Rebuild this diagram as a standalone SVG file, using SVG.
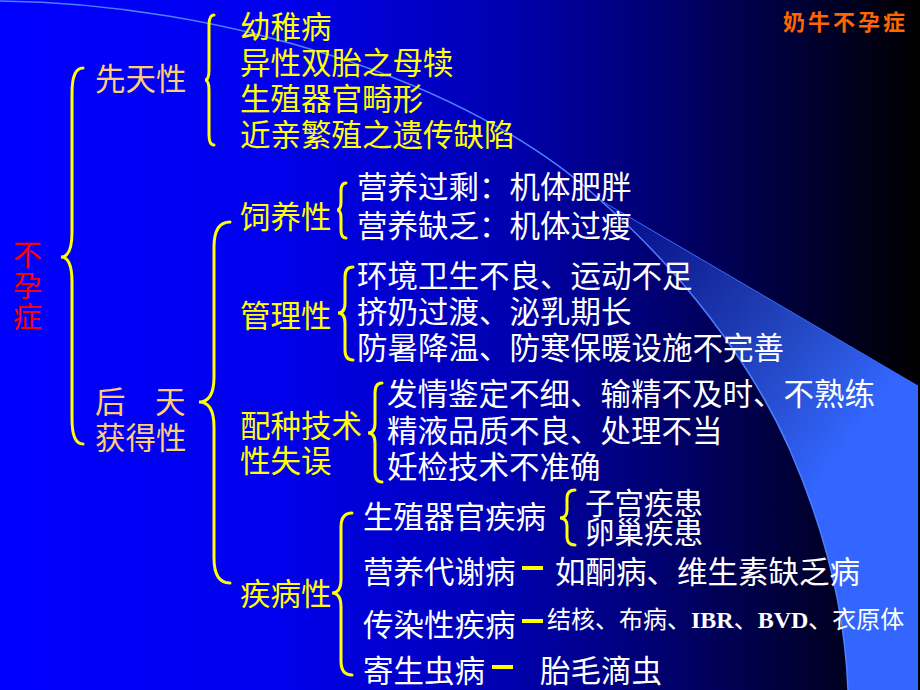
<svg xmlns="http://www.w3.org/2000/svg" width="920" height="690" viewBox="0 0 920 690">
<defs>
<linearGradient id="bg" x1="0" y1="0" x2="920" y2="0" gradientUnits="userSpaceOnUse">
<stop offset="0" stop-color="#0000FF"/>
<stop offset="0.3" stop-color="#0000EE"/>
<stop offset="0.55" stop-color="#0000B0"/>
<stop offset="0.8" stop-color="#000050"/>
<stop offset="1" stop-color="#000000"/>
</linearGradient>
<linearGradient id="wedge" x1="610" y1="205" x2="880" y2="400" gradientUnits="userSpaceOnUse">
<stop offset="0" stop-color="#3366FF" stop-opacity="0.1"/>
<stop offset="1" stop-color="#3366FF" stop-opacity="1"/>
</linearGradient>
<style>
text{font-family:"Noto Sans CJK SC","Liberation Sans",sans-serif;font-size:30.5px}
.y{fill:#FFFF00}
.w{fill:#FFFFFF}
.t{fill:#FFCC77}
.r{fill:#FF0000;font-size:29px}
.brace{fill:none;stroke:#FFFF00;stroke-width:3;stroke-linecap:round}
.dash{stroke:#FFFF00;stroke-width:4}
.sub{font-size:29.5px}
.sm{font-size:24px;font-family:"Liberation Serif","Noto Sans CJK SC",serif;font-weight:bold}
.smc{font-weight:normal;font-family:"Noto Sans CJK SC",sans-serif}
</style>
</defs>
<rect x="0" y="0" width="920" height="690" fill="url(#bg)"/>
<g id="decoration">
<path d="M600,200 L918,386 L918,690 L848,690 C845,610 825,530 790,450 C750,360 680,270 600,200 Z" fill="url(#wedge)"/>
<path d="M0,1 C220,3 470,80 600,200 C680,270 750,360 790,450 C825,530 845,610 848,690" fill="none" stroke="#4D7FFF" stroke-width="1.5"/>
<path d="M600,200 L918,386" fill="none" stroke="#3D6BFF" stroke-width="1"/>
</g>
<g id="title"><text x="783" y="30" style="fill:#FF6600;font-size:22px;font-weight:bold;letter-spacing:3px">奶牛不孕症</text></g>
<g id="root"><text class="r" x="13" y="266">不</text><text class="r" x="13" y="297">孕</text><text class="r" x="13" y="328">症</text></g>
<g id="congenital"><text class="t" x="95" y="90">先天性</text></g>
<g id="congenital-items">
<text class="y" x="240" y="38">幼稚病</text>
<text class="y" x="240" y="74">异性双胎之母犊</text>
<text class="y" x="240" y="110">生殖器官畸形</text>
<text class="y" x="240" y="146">近亲繁殖之遗传缺陷</text>
</g>
<g id="acquired"><text class="t" x="95" y="413">后</text><text class="t" x="155" y="413">天</text><text class="t" x="95" y="449">获得性</text></g>
<g id="feeding"><text class="y" x="240" y="228">饲养性</text></g>
<g id="feeding-items">
<text class="w" x="357" y="198">营养过剩：机体肥胖</text>
<text class="w" x="357" y="237">营养缺乏：机体过瘦</text>
</g>
<g id="management"><text class="y" x="240" y="327">管理性</text></g>
<g id="management-items">
<text class="w" x="357" y="287">环境卫生不良、运动不足</text>
<text class="w" x="357" y="323">挤奶过渡、泌乳期长</text>
<text class="w" x="357" y="359">防暑降温、防寒保暖设施不完善</text>
</g>
<g id="breeding"><text class="y" x="240" y="437">配种技术</text><text class="y" x="240" y="472">性失误</text></g>
<g id="breeding-items">
<text class="w" x="387" y="405">发情鉴定不细、输精不及时、不熟练</text>
<text class="w" x="387" y="442">精液品质不良、处理不当</text>
<text class="w" x="387" y="478">妊检技术不准确</text>
</g>
<g id="disease"><text class="y" x="240" y="605">疾病性</text></g>
<g id="reproductive"><text class="w" x="363" y="528">生殖器官疾病</text></g>
<g id="reproductive-items">
<text class="w sub" x="585" y="514">子宫疾患</text>
<text class="w sub" x="585" y="543">卵巢疾患</text>
</g>
<g id="metabolic"><text class="w" x="363" y="583">营养代谢病</text><text class="w" x="555" y="583">如酮病、维生素缺乏病</text></g>
<g id="infectious"><text class="w" x="363" y="636">传染性疾病</text><text class="w sm" x="547" y="628"><tspan class="smc">结核、布病、</tspan>IBR<tspan class="smc">、</tspan>BVD<tspan class="smc">、衣原体</tspan></text></g>
<g id="parasitic"><text class="w" x="363" y="682">寄生虫病</text><text class="w" x="540" y="682">胎毛滴虫</text></g>
<g id="connectors">
<path class="brace" d="M83,68 Q72,68 72,93 L72,232 Q72,257 61,257 Q72,257 72,282 L72,419 Q72,444 83,444"/>
<path class="brace" d="M214,15 Q209,15 209,25 L209,70 Q209,80 205,80 Q209,80 209,90 L209,135 Q209,145 214,145"/>
<path class="brace" d="M230,222 Q214,222 214,247 L214,377 Q214,402 199,402 Q214,402 214,427 L214,558 Q214,583 230,583"/>
<path class="brace" d="M346,183 Q341,183 341,191 L341,202 Q341,210 337,210 Q341,210 341,218 L341,230 Q341,238 346,238"/>
<path class="brace" d="M353,267 Q345,267 345,277 L345,303 Q345,313 338,313 Q345,313 345,323 L345,350 Q345,360 353,360"/>
<path class="brace" d="M382,383 Q375,383 375,393 L375,423 Q375,433 368,433 Q375,433 375,443 L375,472 Q375,482 382,482"/>
<path class="brace" d="M352,513 Q341,513 341,527 L341,579 Q341,593 332,593 Q341,593 341,607 L341,661 Q341,675 352,675"/>
<path class="brace" d="M575,490 Q567,490 567,498 L567,510 Q567,518 560,518 Q567,518 567,526 L567,537 Q567,545 575,545"/>
<line class="dash" x1="522" y1="568" x2="543" y2="568"/>
<line class="dash" x1="522" y1="621" x2="543" y2="621"/>
<line class="dash" x1="492" y1="667" x2="513" y2="667"/>
</g>
</svg>
